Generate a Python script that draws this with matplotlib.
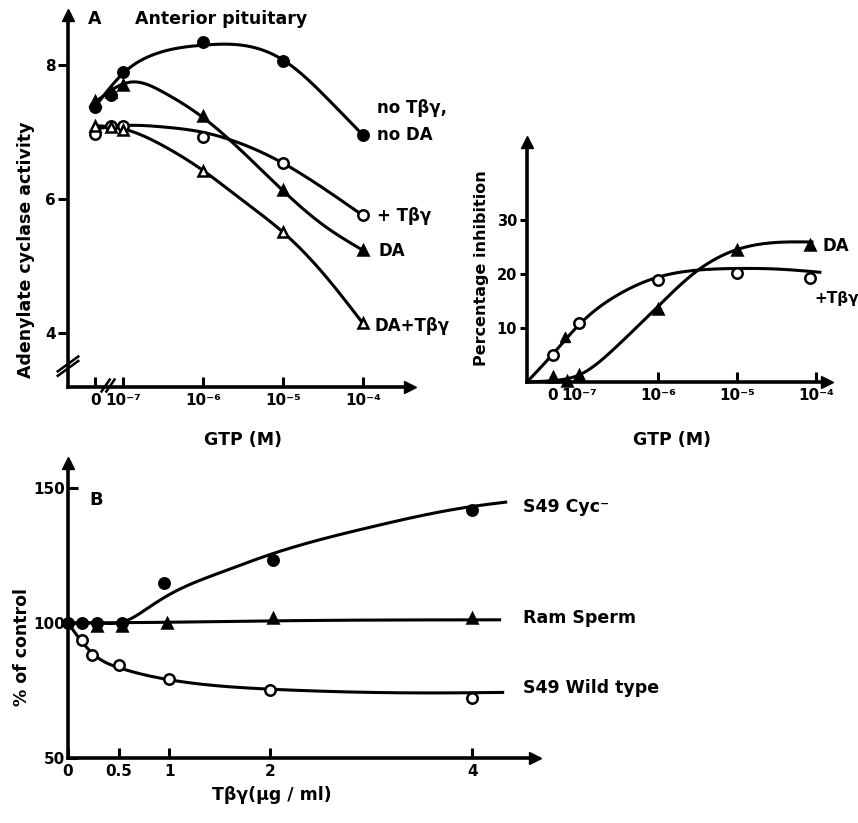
import numpy as np
import matplotlib
matplotlib.use("Agg")
import matplotlib.pyplot as plt

plt.rcParams['font.family'] = ['DejaVu Sans']
plt.rcParams['font.weight'] = 'bold'

# ---------------- data: panel A (adenylate cyclase activity) ----------------
# x in log10(GTP, M); "0" GTP drawn at -7.35, intermediate cluster at -7.15
a_tick_pos = [-7.35, -7.0, -6.0, -5.0, -4.0]
a_tick_lab = ["0", "10\u207b\u2077", "10\u207b\u2076", "10\u207b\u2075", "10\u207b\u2074"]
a_ytick = [4, 6, 8]

a_x = [-7.35, -7.15, -7.0, -6.0, -5.0, -4.0]
a_none_y = [7.38, 7.55, 7.9, 8.34, 8.07, 6.96]        # no Tβγ, no DA (filled circles)
a_da_y = [7.47, 7.6, 7.7, 7.24, 6.14, 5.24]          # DA (filled triangles)
a_tby_y = [6.97, 7.1, 7.1, 6.93, 6.54, 5.76]         # + Tβγ (open circles)
a_datby_y = [7.1, 7.08, 7.03, 6.43, 5.51, 4.15]      # DA + Tβγ (open triangles)

# fitted curves (knots)
a_none_cx = [-7.35, -7.0, -6.66, -6.0, -5.6, -5.0, -4.4, -4.0]
a_none_cy = [7.38, 7.88, 8.14, 8.3, 8.31, 8.08, 7.45, 6.96]
a_da_cx = [-7.35, -6.9, -6.5, -6.0, -5.0, -4.5, -4.0]
a_da_cy = [7.45, 7.75, 7.6, 7.22, 6.13, 5.62, 5.24]
a_tby_cx = [-7.35, -7.0, -6.5, -6.0, -5.5, -5.0, -4.5, -4.0]
a_tby_cy = [7.05, 7.1, 7.08, 7.0, 6.82, 6.54, 6.17, 5.76]
a_datby_cx = [-7.35, -7.0, -6.5, -6.0, -5.5, -5.0, -4.5, -4.0]
a_datby_cy = [7.1, 7.05, 6.8, 6.43, 5.98, 5.51, 4.9, 4.15]

# ---------------- data: panel A right (percentage inhibition) ----------------
p_tick_pos = [-7.33, -7.0, -6.0, -5.0, -4.0]
p_tick_lab = ["0", "10\u207b\u2077", "10\u207b\u2076", "10\u207b\u2075", "10\u207b\u2074"]
p_ytick = [10, 20, 30]

p_tby_x = [-7.33, -7.0, -6.0, -5.0, -4.08]
p_tby_y = [5.0, 10.9, 18.9, 20.2, 19.3]
p_da_x = [-7.33, -7.15, -7.0, -6.0, -5.0, -4.08]
p_da_y = [1.0, 0.2, 1.3, 13.5, 24.4, 25.4]
p_extra_x = [-7.18]
p_extra_y = [8.3]

p_tby_cx = [-7.66, -7.33, -7.0, -6.5, -6.0, -5.5, -5.0, -4.5, -3.95]
p_tby_cy = [0.0, 5.2, 10.6, 16.2, 19.4, 20.7, 21.0, 20.9, 20.3]
p_da_cx = [-7.66, -7.3, -7.0, -6.53, -6.0, -5.52, -5.0, -4.6, -4.05]
p_da_cy = [0.0, 0.3, 1.3, 6.5, 14.0, 20.4, 24.5, 25.7, 25.9]

# ---------------- data: panel B (% of control) ----------------
b_tick_pos = [0, 0.5, 1, 2, 4]
b_tick_lab = ["0", "0.5", "1", "2", "4"]
b_ytick = [50, 100, 150]

b_cyc_x = [0.0, 0.14, 0.29, 0.53, 0.95, 2.03, 4.0]
b_cyc_y = [100, 100, 100, 100, 115, 123.3, 142]
b_ram_x = [0.29, 0.53, 0.98, 2.03, 4.0]
b_ram_y = [98.8, 98.8, 100, 102, 102]
b_wt_x = [0.14, 0.24, 0.5, 1.0, 2.0, 4.0]
b_wt_y = [93.7, 88.0, 84.4, 79.3, 75.2, 72.2]

b_cyc_cx = [0.0, 0.3, 0.55, 0.8, 1.0, 1.5, 2.0, 3.0, 3.6, 4.0, 4.33]
b_cyc_cy = [100, 100, 100.5, 105.8, 110.5, 118.6, 125.4, 135.6, 140.6, 143.2, 144.8]
b_ram_cx = [0.0, 1.0, 2.0, 3.0, 4.27]
b_ram_cy = [100, 100.3, 100.8, 101.1, 101.2]
b_wt_cx = [0.0, 0.25, 0.5, 1.0, 2.0, 3.0, 3.6, 4.3]
b_wt_cy = [100, 88.5, 83.5, 79.0, 75.5, 74.3, 74.1, 74.3]


def spline(xk, yk, n=300):
    xk = np.asarray(xk, float)
    yk = np.asarray(yk, float)
    m = len(xk)
    h = np.diff(xk)
    A = np.zeros((m, m))
    r = np.zeros(m)
    A[0, 0] = 1
    A[-1, -1] = 1
    for i in range(1, m - 1):
        A[i, i - 1] = h[i - 1]
        A[i, i] = 2 * (h[i - 1] + h[i])
        A[i, i + 1] = h[i]
        r[i] = 6 * ((yk[i + 1] - yk[i]) / h[i] - (yk[i] - yk[i - 1]) / h[i - 1])
    M = np.linalg.solve(A, r)
    xs = np.linspace(xk[0], xk[-1], n)
    idx = np.clip(np.searchsorted(xk, xs) - 1, 0, m - 2)
    x0, x1 = xk[idx], xk[idx + 1]
    hh = x1 - x0
    t0, t1 = x1 - xs, xs - x0
    ys = (M[idx] * t0 ** 3 + M[idx + 1] * t1 ** 3) / (6 * hh) \
        + (yk[idx] / hh - M[idx] * hh / 6) * t0 + (yk[idx + 1] / hh - M[idx + 1] * hh / 6) * t1
    return xs, ys


W, H = 858, 823
fig = plt.figure(figsize=(W / 100, H / 100), dpi=100)


def rect(x0, y0, x1, y1):
    return [x0 / W, 1 - y1 / H, (x1 - x0) / W, (y1 - y0) / H]


def ftext(px, py, s, **kw):
    fig.text(px / W, 1 - py / H, s, **kw)


LW = 2.2
MS = 7.5


def style_axes(ax, xdir='in', ydir='out', ylen=7):
    for s in ['top', 'right']:
        ax.spines[s].set_visible(False)
    for s in ['left', 'bottom']:
        ax.spines[s].set_linewidth(2.6)
    ax.tick_params(axis='x', direction=xdir, length=7, width=2.2, labelsize=11, pad=4)
    ax.tick_params(axis='y', direction=ydir, length=ylen, width=2.2, labelsize=11, pad=2)
    for lab in ax.get_xticklabels() + ax.get_yticklabels():
        lab.set_fontweight('bold')
    ax.plot(1, 0, '>', color='k', ms=9, transform=ax.transAxes, clip_on=False)
    ax.plot(0, 1, '^', color='k', ms=9, transform=ax.transAxes, clip_on=False)
    ax.patch.set_alpha(0)


def series(ax, cx, cy, px, py, marker, filled):
    xs, ys = spline(cx, cy)
    ax.plot(xs, ys, color='k', lw=LW, clip_on=False)
    ax.plot(px, py, linestyle='none', marker=marker, ms=MS,
            mfc='k' if filled else 'white', mec='k', mew=1.8, clip_on=False, zorder=5)


# ---------------- panel A left ----------------
axA = fig.add_axes(rect(68, 15, 410, 387))
axA.set_xlim(-7.69, -3.41)
axA.set_ylim(3.2, 8.75)
axA.set_xticks(a_tick_pos)
axA.set_xticklabels(a_tick_lab)
axA.set_yticks(a_ytick)
style_axes(axA, xdir='in', ydir='out')
series(axA, a_none_cx, a_none_cy, a_x, a_none_y, 'o', True)
series(axA, a_da_cx, a_da_cy, a_x, a_da_y, '^', True)
series(axA, a_tby_cx, a_tby_cy, a_x, a_tby_y, 'o', False)
series(axA, a_datby_cx, a_datby_cy, a_x, a_datby_y, '^', False)
# axis breaks
for dy in (0.0, 0.012):
    axA.plot([-0.03, 0.03], [0.05 + dy - 0.02, 0.05 + dy + 0.02], color='k', lw=1.8,
             transform=axA.transAxes, clip_on=False)
for dx in (0.0, 0.014):
    axA.plot([0.11 + dx - 0.012, 0.11 + dx + 0.012], [-0.012, 0.02], color='k', lw=1.8,
             transform=axA.transAxes, clip_on=False)

ftext(88, 19, "A", fontsize=12.5, fontweight='bold', ha='left', va='center')
ftext(135, 19, "Anterior pituitary", fontsize=12.5, fontweight='bold', ha='left', va='center')
ftext(26, 250, "Adenylate cyclase activity", fontsize=12.5, fontweight='bold',
      rotation=90, ha='center', va='center')
ftext(243, 440, "GTP (M)", fontsize=12.5, fontweight='bold', ha='center', va='center')
ftext(377, 108, "no T\u03b2\u03b3,", fontsize=12, fontweight='bold', ha='left', va='center')
ftext(377, 135, "no DA", fontsize=12, fontweight='bold', ha='left', va='center')
ftext(377, 216, "+ T\u03b2\u03b3", fontsize=12, fontweight='bold', ha='left', va='center')
ftext(378, 251, "DA", fontsize=12, fontweight='bold', ha='left', va='center')
ftext(374, 326, "DA+T\u03b2\u03b3", fontsize=12, fontweight='bold', ha='left', va='center')

# ---------------- panel A right ----------------
axP = fig.add_axes(rect(527, 142, 827, 382))
axP.set_xlim(-7.66, -3.86)
axP.set_ylim(0, 44.4)
axP.set_xticks(p_tick_pos)
axP.set_xticklabels(p_tick_lab)
axP.set_yticks(p_ytick)
style_axes(axP, xdir='in', ydir='out', ylen=5)
for lab in axP.get_yticklabels():
    lab.set_fontsize(10.5)
series(axP, p_tby_cx, p_tby_cy, p_tby_x, p_tby_y, 'o', False)
series(axP, p_da_cx, p_da_cy, p_da_x, p_da_y, '^', True)
axP.plot(p_extra_x, p_extra_y, linestyle='none', marker='^', ms=MS, color='k', zorder=5)

ftext(482, 268, "Percentage inhibition", fontsize=11.5, fontweight='bold',
      rotation=90, ha='center', va='center')
ftext(672, 440, "GTP (M)", fontsize=12.5, fontweight='bold', ha='center', va='center')
ftext(822, 246, "DA", fontsize=12, fontweight='bold', ha='left', va='center')
ftext(814, 298, "+T\u03b2\u03b3", fontsize=11, fontweight='bold', ha='left', va='center')

# ---------------- panel B ----------------
axB = fig.add_axes(rect(68, 463, 535, 758))
axB.set_xlim(0, 4.62)
axB.set_ylim(50, 159.3)
axB.set_xticks(b_tick_pos)
axB.set_xticklabels(b_tick_lab)
axB.set_yticks(b_ytick)
style_axes(axB, xdir='in', ydir='in')
series(axB, b_cyc_cx, b_cyc_cy, b_cyc_x, b_cyc_y, 'o', True)
series(axB, b_ram_cx, b_ram_cy, b_ram_x, b_ram_y, '^', True)
series(axB, b_wt_cx, b_wt_cy, b_wt_x, b_wt_y, 'o', False)

ftext(96, 500, "B", fontsize=13, fontweight='bold', ha='center', va='center')
ftext(22, 647, "% of control", fontsize=12.5, fontweight='bold',
      rotation=90, ha='center', va='center')
ftext(272, 795, "T\u03b2\u03b3(\u03bcg / ml)", fontsize=12.5, fontweight='bold',
      ha='center', va='center')
ftext(523, 507, "S49 Cyc\u207b", fontsize=12.5, fontweight='bold', ha='left', va='center')
ftext(523, 618, "Ram Sperm", fontsize=12.5, fontweight='bold', ha='left', va='center')
ftext(523, 688, "S49 Wild type", fontsize=12.5, fontweight='bold', ha='left', va='center')

fig.savefig("out.png", dpi=100, facecolor='white')
